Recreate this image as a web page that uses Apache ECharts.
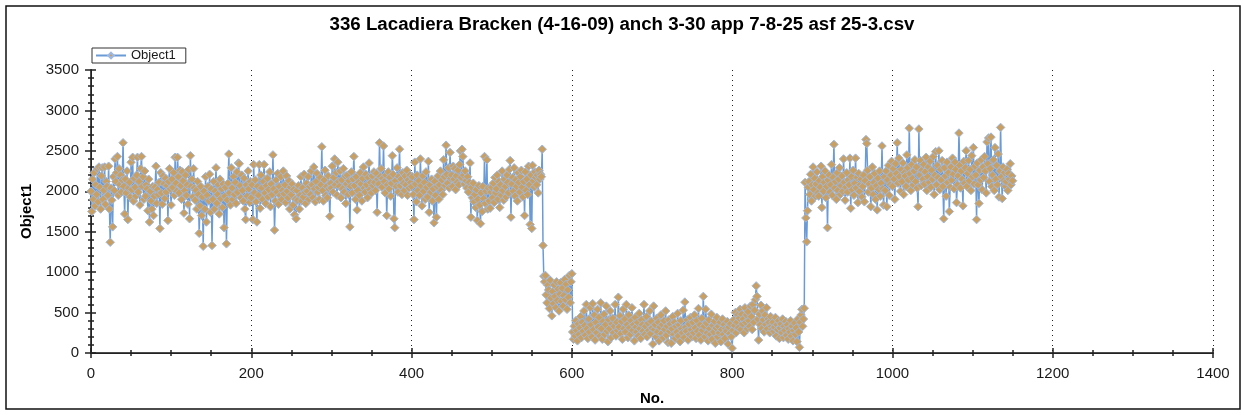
<!DOCTYPE html>
<html>
<head>
<meta charset="utf-8">
<title>336 Lacadiera Bracken</title>
<script src="https://cdn.jsdelivr.net/npm/echarts@6/dist/echarts.min.js"></script>
<style>
  html, body { margin: 0; padding: 0; background: #fff; }
  #chart { width: 1244px; height: 415px; }
</style>
</head>
<body>
<div id="chart"></div>
<script>
// Object1 readings, No. 0 .. 1150, grouped in runs of samples
const object1_000 = [
  2000,1750,2150,1900,2230,1820,2080,1960,2280,1870,
  2300,2050,1780,2190,2290,1900,2010,2300,1840,2120,
  2060,1950,2310,1780,1370,2040,1890,1560,2180,2010,
  2400,2120,2230,2430,1950,2280,2080,2200,1990,2140,
  2600,2060,1720,2150,1980,2250,1650,2040,2110,1930,
  2360,2020,2420,1880,2160,2050,1940,2200,2420,1990,
  2120,1830,2280,2430,2060,2180,1900,2250,1940,2080,
  2030,1760,2150,1620,2000,1880,1780,2060,1700,1940,
  2050,2310,1850,2020,1960,2110,1540,2230,1980,1840,
  2190,2090,1910,2160,1990,2070,1640,2120,2280,2030
];
const object1_100 = [
  1830,2150,2050,2230,1950,2420,2100,2000,2420,2180,
  1980,2260,2070,1900,2240,2130,1730,2010,2200,1950,
  2080,1840,2270,1660,2440,2060,2150,1930,2280,2040,
  1890,2010,1780,2120,1960,1480,1820,2060,1700,1930,
  1320,2000,1780,2180,1620,1950,2060,1880,2210,1740,
  2030,1330,1900,2120,1780,2000,2290,1850,1960,2080,
  1720,2150,1910,2030,1800,2090,1550,1940,2050,1350,
  1890,2100,2460,1980,1830,2290,2040,1900,2180,1960,
  2110,1850,2240,1990,2350,2340,2070,1920,2200,2010,
  1880,2160,1780,1650,2080,1940,2250,2030,1860,2120
];
const object1_200 = [
  1920,2080,1650,2330,1980,2140,1870,1620,2060,1950,
  2330,1790,2200,2040,1900,2120,2330,1980,1850,2070,
  2160,1930,2020,2240,1810,2090,1960,2450,2030,1520,
  1880,2140,1990,2220,1840,2060,1950,2180,1900,2010,
  2250,1970,2080,1860,2190,2000,1920,2130,1780,2050,
  1960,2090,1830,2020,1710,1900,1660,2010,1890,2070,
  1780,1950,2180,1880,2040,1930,2210,1990,1850,2100,
  2000,2180,1900,2060,1960,2250,2080,1920,2300,2030,
  1870,2120,2220,1990,2050,1900,2170,2080,2550,2010,
  1880,2140,2260,1950,2060,1920,2190,2030,1690,2100
];
const object1_300 = [
  2040,2310,1990,2170,2400,2080,2230,1950,2360,2120,
  2060,2250,1920,2140,2030,2280,1990,2190,1850,2090,
  2200,1960,2130,1560,2060,2240,1980,2150,2430,2070,
  1900,2180,1770,2010,2110,1950,2230,2090,1880,2160,
  2300,2040,1990,2210,2080,1920,2170,2350,2020,2110,
  1980,2190,2070,2240,2110,2010,2220,1740,2150,2090,
  2600,2180,2280,2050,2160,2560,2120,1980,2200,1700,
  2080,2240,2030,2170,1940,2100,2440,2210,1660,1550,
  2130,2060,2290,1990,2180,2520,2070,2150,1960,2230,
  2100,2010,2190,2080,2260,1950,2140,2040,2200,2110
];
const object1_400 = [
  2060,2180,1960,1650,2360,2090,1870,2200,2010,2130,
  1950,2400,2070,1820,2190,2000,2110,1900,2240,2050,
  1930,2370,1740,2080,1990,2150,1880,2030,1610,2120,
  1950,1680,2060,2190,1900,2080,2250,2010,2140,1960,
  2390,2180,2070,2570,2210,2100,2290,2040,2480,2160,
  2200,2060,2310,2150,2280,2020,2190,2110,2260,2080,
  2330,2500,2170,2520,2430,2200,2090,2250,2130,2040,
  2180,1990,2110,2350,1680,2050,1920,2100,1870,1960,
  1800,2020,1640,1900,2070,1830,1600,1980,1750,2060,
  1910,2430,1850,2000,2390,1780,2040,1880,1790,1990
];
const object1_500 = [
  2050,1920,2100,1860,2170,1980,2030,2200,1900,2120,
  1800,2080,1950,2250,2010,1890,2150,2060,1930,2200,
  2110,1980,2270,2380,1680,2090,2170,2000,2290,1940,
  2140,2060,1880,2230,2110,1990,2180,2260,2050,1930,
  2120,1700,2240,2010,2150,1960,2310,2080,1590,2200,
  1540,2320,2130,2050,2240,2170,2080,2200,1980,2260,
  2150,2210,2180,2520,1330
];
// drop-off, No. 565 .. 600
const object1_565 = [
  950,880,960,720,620,840,780,550,900,680,
  460,760,610,840,700,560,880,650,790,520,
  730,870,640,800,580,710,910,660,850,540,
  780,690,960,620,880,980
];
// low plateau, No. 601 .. 890
const object1_601 = [
  260,170,330,210,400,280,150,360,230,310,
  450,190,380,270,520,340,220,600,300,180,
  420,260,560,350,200,610,290,470,160,380,
  250,540,320,440,210,620,300,170,390,480,
  230,350,580,270,140,410,300,520,190,360,
  430,250,330,600,210,380,280,690,320,460,
  240,390,170,540,300,420,260,600,350,190,
  470,310,230,400,560,280,350,150,440,320,
  260,380,210,490,300,180,410,350,270,600,
  230,330,450,200,370,280,520,240,390,310
];
const object1_701 = [
  110,580,290,350,200,430,260,380,150,320,
  470,240,350,190,400,290,520,220,330,130,
  410,270,360,120,300,450,230,380,180,330,
  260,490,210,350,140,400,300,250,530,190,
  630,320,270,410,160,360,230,440,290,200,
  380,250,470,310,180,400,270,550,220,350,
  160,430,280,700,330,200,540,370,250,150,
  410,300,230,480,170,340,260,390,120,310,
  440,200,330,250,380,140,290,420,230,350,
  180,300,270,390,110,320,240,360,200,60
];
const object1_801 = [
  280,410,340,500,250,380,470,310,430,540,
  290,480,360,420,250,560,380,470,300,510,
  400,330,580,450,290,600,380,530,660,830,
  700,420,160,480,350,590,300,520,410,260,
  470,350,560,300,420,380,250,450,330,290,
  380,270,320,440,210,350,290,400,180,310,
  360,250,420,190,330,280,390,220,350,170,
  300,260,400,210,330,150,280,370,230,310,
  140,420,260,70,380,470,540,330,420,554
];
// recovery, No. 891 .. 1150
const object1_891 = [
  2110,1670,1375,1760,2050,2120,1960,2210,1880,2080,
  2300,2020,2160,1940,2090,2240,1980,1940,2130,2050,
  2310,1800,2180,2000,2110,2250,1920,2060,1550,2140,
  2200,1990,2080,2330,1950,2170,2580,2040,2120,1900,
  2230,2010,2150,2290,1960,2070,2190,2000,2400,2110,
  1890,2050,2230,1990,2140,2080,2410,1790,2180,2020,
  2260,1950,2100,2410,2040,2170,1860,2220,2000,2080,
  2150,1930,2060,2200,1870,2130,2640,2590,2260,1990,
  2090,2180,1810,2040,2300,1960,2110,2220,1900,2070,
  1770,2160,2020,2250,1940,2100,2560,2030,1830,2180
];
const object1_991 = [
  2010,2250,1810,2140,2320,1950,2080,2200,2370,2060,
  2280,2150,1900,2340,2220,2600,2100,2410,2180,2000,
  2270,2120,2350,1960,2230,2190,2060,2450,2290,2140,
  2780,2220,2010,2330,2160,2080,2250,2390,2120,2300,
  2040,1810,2770,2200,2380,2070,2260,2150,2330,2090,
  2240,2420,2010,2180,2300,2110,2370,2050,2260,2150,
  2430,1960,2200,2490,2080,2320,2170,2500,2020,2270,
  2140,2380,2060,1660,2290,2190,1940,2360,2110,2230,
  1750,2050,2300,2140,2410,2210,2030,2360,2270,1860,
  2080,2190,2720,2320,2040,2250,2150,1820,2370,2100
];
const object1_1091 = [
  2290,2500,2060,2220,2380,2130,2270,2010,2440,2180,
  2540,2090,2310,2200,1650,2350,2080,1850,2260,2140,
  2390,2020,2300,2170,2430,2250,1980,2610,2340,2660,
  2120,2280,2670,2060,2200,2390,2010,2540,2150,2320,
  2080,2460,1930,2250,2790,2180,1910,2300,2130,2230,
  2060,2120,2270,2010,2220,2150,2340,2080,2190,2130
];

const TITLE = '336 Lacadiera Bracken (4-16-09) anch 3-30 app 7-8-25 asf 25-3.csv';
const SERIES_NAME = 'Object1';
const X_NAME = 'No.';
const Y_NAME = 'Object1';
const X_MIN = 0, X_MAX = 1400, X_STEP = 200;
const Y_MIN = 0, Y_MAX = 3500, Y_STEP = 500;

const values = [].concat(
  object1_000, object1_100, object1_200, object1_300, object1_400, object1_500,
  object1_565, object1_601, object1_701, object1_801,
  object1_891, object1_991, object1_1091
);
const points = values.map((v, i) => [i, v]);

const INK = '#1a1a1a';
const FONT = '"Liberation Sans", Arial, sans-serif';
const plain = v => String(v);

const chart = echarts.init(document.getElementById('chart'), null, { renderer: 'canvas' });

const baseAxis = {
  type: 'value',
  min: X_MIN, max: X_MAX, interval: X_STEP,
  splitLine: { show: false },
  axisLabel: { show: false },
  axisLine: { show: false }
};
const baseY = {
  type: 'value',
  min: Y_MIN, max: Y_MAX, interval: Y_STEP,
  splitLine: { show: false },
  axisLabel: { show: false },
  axisLine: { show: false }
};

chart.setOption({
  animation: false,
  backgroundColor: '#fff',
  title: {
    text: TITLE,
    left: 'center',
    top: 15,
    padding: [0, 0, 0, 24],
    textStyle: { fontFamily: FONT, fontSize: 18.7, fontWeight: 'bold', color: '#000' }
  },
  legend: {
    show: true,
    left: 92, top: 48,
    orient: 'horizontal',
    data: [SERIES_NAME],
    itemWidth: 30, itemHeight: 7,
    padding: [1, 10, 1, 3],
    borderColor: '#333', borderWidth: 1,
    textStyle: { fontFamily: FONT, fontSize: 13, color: INK },
    itemGap: 4
  },
  graphic: [{
    type: 'rect',
    shape: { x: 6, y: 6, width: 1234, height: 403 },
    style: { fill: 'none', stroke: '#111', lineWidth: 1.5 },
    silent: true, z: -1
  }],
  grid: { left: 91, right: 31, top: 70, bottom: 62, containLabel: false },
  xAxis: [
    {
      type: 'value', position: 'bottom',
      min: X_MIN, max: X_MAX, interval: X_STEP,
      name: X_NAME, nameLocation: 'middle', nameGap: 38,
      nameTextStyle: { fontFamily: FONT, fontSize: 15, fontWeight: 'bold', color: '#000' },
      axisLine: { show: true, lineStyle: { color: '#4a4a4a', width: 2 } },
      axisTick: { show: true, inside: false, length: 5, lineStyle: { color: '#222', width: 1.5 } },
      minorTick: { show: true, splitNumber: 4, length: 3, lineStyle: { color: '#222', width: 1.5 } },
      axisLabel: { show: true, margin: 13, fontFamily: FONT, fontSize: 15, color: INK, formatter: plain },
      splitLine: { show: true, lineStyle: { color: '#222', width: 1, type: [1, 4] } }
    },
    Object.assign({}, baseAxis, {
      position: 'bottom',
      axisTick: { show: true, inside: true, length: 5, lineStyle: { color: '#222', width: 1.5 } },
      minorTick: { show: true, splitNumber: 4, length: 3, lineStyle: { color: '#222', width: 1.5 } }
    }),
    Object.assign({}, baseAxis, {
      position: 'top',
      axisLine: { show: true, lineStyle: { color: '#222', width: 1 } },
      axisTick: { show: true, inside: true, length: 4, lineStyle: { color: '#222', width: 1.5 } },
      minorTick: { show: true, splitNumber: 4, length: 3, lineStyle: { color: '#222', width: 1.5 } }
    })
  ],
  yAxis: [
    {
      type: 'value', position: 'left',
      min: Y_MIN, max: Y_MAX, interval: Y_STEP,
      name: Y_NAME, nameLocation: 'middle', nameGap: 57, nameRotate: 90,
      nameTextStyle: { fontFamily: FONT, fontSize: 15, fontWeight: 'bold', color: '#000' },
      axisLine: { show: true, lineStyle: { color: '#4a4a4a', width: 2 } },
      axisTick: { show: true, inside: false, length: 5, lineStyle: { color: '#222', width: 1.5 } },
      minorTick: { show: true, splitNumber: 5, length: 3, lineStyle: { color: '#222', width: 1.5 } },
      axisLabel: { show: true, margin: 12, fontFamily: FONT, fontSize: 15, color: INK, formatter: plain },
      splitLine: { show: false }
    },
    Object.assign({}, baseY, {
      position: 'left',
      axisTick: { show: true, inside: true, length: 5, lineStyle: { color: '#222', width: 1.5 } },
      minorTick: { show: true, splitNumber: 5, length: 3, lineStyle: { color: '#222', width: 1.5 } }
    }),
    Object.assign({}, baseY, {
      position: 'right',
      axisLine: { show: true, lineStyle: { color: '#222', width: 1 } },
      axisTick: { show: true, inside: true, length: 6, lineStyle: { color: '#222', width: 1.5 } },
      minorTick: { show: true, splitNumber: 5, length: 3, lineStyle: { color: '#222', width: 1.5 } }
    })
  ],
  series: [{
    name: SERIES_NAME,
    type: 'line',
    xAxisIndex: 0, yAxisIndex: 0,
    data: points,
    symbol: 'diamond',
    symbolSize: 8.5,
    showSymbol: true,
    showAllSymbol: true,
    sampling: null,
    lineStyle: { color: '#6b9bd6', width: 1.5 },
    itemStyle: { color: '#c9a062', borderColor: '#9db9e2', borderWidth: 1 },
    emphasis: { disabled: true }
  }]
});
</script>
</body>
</html>
